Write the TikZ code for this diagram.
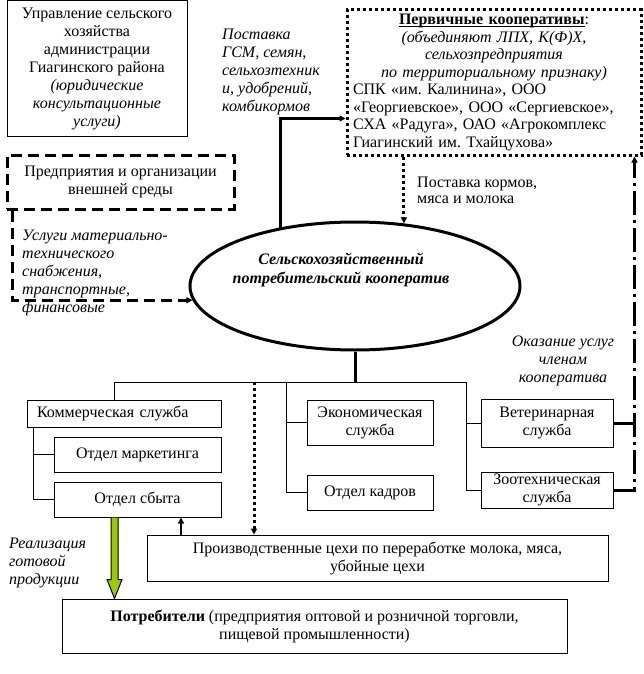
\documentclass[tikz,border=0pt]{standalone}
\usepackage{fontspec}
\setmainfont{Liberation Serif}
\usetikzlibrary{shapes.geometric,arrows.meta}
\definecolor{grn}{RGB}{153,204,0}
\frenchspacing
\newcommand\ulbase[1]{\setbox0\hbox{#1}\rlap{\rule[-2pt]{\wd0}{0.8pt}}\box0}

\begin{document}
\begin{tikzpicture}[x=1pt,y=-1pt,
	font=\fontsize{16}{18}\selectfont,
	box/.style={draw, line width=1pt, inner sep=1pt, align=center},
	lbl/.style={inner sep=0pt, font=\fontsize{16}{18}\selectfont\itshape},
	tip/.style={-{Triangle[length=6pt,width=6pt]}},
	thinline/.style={line width=1pt},
	thickline/.style={line width=3pt},
	dashline/.style={line width=3pt, dash pattern=on 11pt off 6pt},
	dotline/.style={line width=3pt, dash pattern=on 3pt off 3pt},
	dashdotline/.style={line width=3pt, dash pattern=on 24pt off 5pt on 3pt off 5pt}]

\useasboundingbox (0,0) rectangle (643,674);

\node[box, minimum width=180pt, minimum height=135pt] (uprav) at (97,68.5) {Управление сельского\\хозяйства\\администрации\\Гиагинского района\\\textit{(юридические}\\\textit{консультационные}\\\textit{услуги)}};

\node[box, dashline, minimum width=227pt, minimum height=54pt] (vnesh) at (120.5,182) {Предприятия и организации\\внешней среды};

\node[box, dotline, minimum width=294pt, minimum height=145pt, text width=282pt, font=\fontsize{16}{17.5}\selectfont] (perv) at (494,82.5) {\ulbase{\textbf{Первичные кооперативы}}:\\
\textit{(объединяют ЛПХ, К(Ф)Х,}\\
\textit{сельхозпредприятия}\\
\textit{по территориальному признаку)}\\
\makebox[282pt][s]{СПК «им. Калинина», ООО}\\
\makebox[282pt][s]{«Георгиевское», ООО «Сергиевское»,}\\
\makebox[282pt][s]{СХА «Радуга», ОАО «Агрокомплекс}\\
\makebox[282pt][l]{Гиагинский им. Тхайцухова»}};

\node[draw, thickline, ellipse, minimum width=330pt, minimum height=128pt] (coop) at (355,286) {};
\node[inner sep=0pt, align=center, font=\fontsize{16}{19}\selectfont\bfseries\itshape] (cooptxt) at (341,270) {Сельскохозяйственный\\потребительский кооператив};

\node[lbl, anchor=west, align=left] (postavka) at (222,71.5) {Поставка\\ГСМ, семян,\\сельхозтехник\\и, удобрений,\\комбикормов};
\node[lbl, anchor=west, align=left] (uslugi) at (22,273) {Услуги материально-\\технического\\снабжения,\\транспортные,\\финансовые};
\node[inner sep=0pt, anchor=west, align=left, font=\fontsize{16}{16}\selectfont] (kormov) at (417,190) {Поставка кормов,\\мяса и молока};
\node[lbl, align=center] (okaz) at (563,361) {Оказание услуг\\членам\\кооператива};
\node[lbl, anchor=west, align=left] (realiz) at (9,563) {Реализация\\готовой\\продукции};

\node[box, align=left, text width=174pt, minimum width=194pt, minimum height=27pt] (kom) at (124,413.5) {Коммерческая служба};
\node[box, minimum width=167pt, minimum height=35pt] (mark) at (137.5,454.5) {Отдел маркетинга};
\node[box, minimum width=167pt, minimum height=35pt] (sbyt) at (137.5,499.5) {Отдел сбыта};
\node[box, minimum width=126pt, minimum height=45pt] (eco) at (370,422.5) {Экономическая\\служба};
\node[box, minimum width=126pt, minimum height=35pt] (kadr) at (370,492.5) {Отдел кадров};
\node[box, minimum width=132pt, minimum height=48pt] (vet) at (547,423) {Ветеринарная\\служба};
\node[box, minimum width=132pt, minimum height=36pt] (zoo) at (547,490) {Зоотехническая\\служба};
\node[box, minimum width=461pt, minimum height=46pt] (proizv) at (377.5,558) {Производственные цехи по переработке молока, мяса,\\убойные цехи};
\node[box, minimum width=505pt, minimum height=54pt] (potr) at (314.5,626) {\textbf{Потребители} (предприятия оптовой и розничной торговли,\\пищевой промышленности)};

\draw[dashline, tip] ([xshift=7pt]vnesh.south west) |- (coop.185);
\draw[thickline, tip] (coop.142) |- ([yshift=-36pt]perv.west);
\draw[dotline, tip] (coop.52.5 |- perv.south) -- (coop.52.5);
\draw[dashdotline, tip] (zoo.east) -| ([xshift=-8pt]perv.south east);
\draw[dashdotline] (vet.east) -- ++(20,0);

\coordinate (bus) at (355,382);
\draw[thickline] (coop.south) -- (bus);
\draw[thinline] ([xshift=-10pt]kom.north) |- ([xshift=-14pt]zoo.west |- bus) |- (zoo.west);
\draw[thinline] ([xshift=-14pt]vet.west) -- (vet.west);
\draw[thinline] ([xshift=-20pt]eco.west |- bus) |- (kadr.west);
\draw[thinline] ([xshift=-20pt]eco.west) -- (eco.west);
\draw[thinline] ([xshift=7pt]kom.south west) |- (sbyt.west);
\draw[thinline] ([xshift=7pt]kom.south west |- mark.west) -- (mark.west);
\draw[dotline, tip] ([xshift=-123.5pt]proizv.north |- bus) -- ([xshift=-123.5pt]proizv.north);
\draw[line width=2pt, tip] ([xshift=43.5pt]sbyt.south |- proizv.north) -- ([xshift=43.5pt]sbyt.south);

\coordinate (ga) at ([xshift=-23pt]sbyt.south);
\coordinate (gb) at (ga |- potr.north);
\draw[thinline, fill=grn] ([xshift=-3.5pt]ga) -- ([xshift=-3.5pt,yshift=19pt]gb) -- ([xshift=-7.5pt,yshift=19pt]gb) -- (gb) -- ([xshift=7.5pt,yshift=19pt]gb) -- ([xshift=3.5pt,yshift=19pt]gb) -- ([xshift=3.5pt]ga);

\end{tikzpicture}
\end{document}
